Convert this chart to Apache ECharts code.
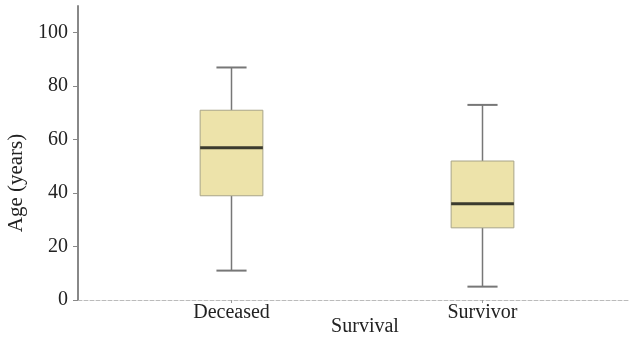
<!DOCTYPE html>
<html>
<head>
<meta charset="utf-8">
<script src="https://cdn.jsdelivr.net/npm/echarts@6/dist/echarts.min.js"></script>
<style>html,body{margin:0;padding:0;background:#fff}#c{width:630px;height:340px}</style>
</head>
<body>
<div id="c"></div>
<script>
const categories = ['Deceased', 'Survivor'];
const mins = [11, 5];
const q1s = [39, 27];
const medians = [57, 36];
const q3s = [71, 52];
const maxs = [87, 73];
const yMin = 0, yMax = 110, yInterval = 20;

const FONT = 'Liberation Serif';
const data = categories.map((c, i) => [i, mins[i], q1s[i], medians[i], q3s[i], maxs[i]]);

const chart = echarts.init(document.getElementById('c'), null, {renderer: 'canvas'});
chart.setOption({
  animation: false,
  backgroundColor: '#fff',
  grid: [
    {left: 106, right: 22, top: 6, bottom: 40, containLabel: false, outerBoundsMode: 'none'},
    {left: 78, right: 0, top: 6, bottom: 40, containLabel: false, outerBoundsMode: 'none'}
  ],
  xAxis: [
    {
      type: 'category', gridIndex: 0, data: categories,
      axisLine: {show: false},
      axisTick: {show: true, alignWithLabel: true, length: 3, lineStyle: {color: '#999'}},
      axisLabel: {color: '#222', fontFamily: FONT, fontSize: 20, margin: 3},
      name: 'Survival', nameLocation: 'middle', nameGap: 17, nameMoveOverlap: false,
      nameTextStyle: {color: '#222', fontFamily: FONT, fontSize: 20, padding: [0, 0, 0, 16]},
      splitLine: {show: false}
    },
    {
      type: 'value', gridIndex: 1, min: 0, max: 1,
      axisLine: {show: true, lineStyle: {color: '#bbb', width: 1, type: 'dashed'}},
      axisTick: {show: false}, axisLabel: {show: false}, splitLine: {show: false}
    }
  ],
  yAxis: [
    {type: 'value', gridIndex: 0, min: yMin, max: yMax, show: false},
    {
      type: 'value', gridIndex: 1, min: yMin, max: yMax, interval: yInterval,
      axisLine: {show: true, lineStyle: {color: '#888', width: 2}},
      axisTick: {show: true, length: 5, lineStyle: {color: '#888'}},
      axisLabel: {color: '#222', fontFamily: FONT, fontSize: 20, margin: 10, showMaxLabel: false},
      splitLine: {show: false},
      name: 'Age (years)', nameLocation: 'middle', nameGap: 51,
      nameTextStyle: {color: '#222', fontFamily: FONT, fontSize: 21, padding: [0, 60, 0, 0]}
    }
  ],
  series: [{
    type: 'custom',
    xAxisIndex: 0, yAxisIndex: 0,
    data: data,
    encode: {x: 0, y: [1, 2, 3, 4, 5]},
    renderItem: function (params, api) {
      const idx = api.value(0);
      const cx = api.coord([idx, 0])[0];
      const bw = api.size([1, 0])[0];
      const boxW = bw * 0.25;
      const capW = bw * 0.12;
      const yMn = api.coord([idx, api.value(1)])[1];
      const yQ1 = api.coord([idx, api.value(2)])[1];
      const yMd = api.coord([idx, api.value(3)])[1];
      const yQ3 = api.coord([idx, api.value(4)])[1];
      const yMx = api.coord([idx, api.value(5)])[1];
      const wStyle = {stroke: '#777', lineWidth: 1.5};
      return {
        type: 'group',
        children: [
          {type: 'line', shape: {x1: cx, y1: yMx, x2: cx, y2: yQ3}, style: wStyle},
          {type: 'line', shape: {x1: cx, y1: yQ1, x2: cx, y2: yMn}, style: wStyle},
          {type: 'line', shape: {x1: cx - capW / 2, y1: yMx, x2: cx + capW / 2, y2: yMx}, style: {stroke: '#777', lineWidth: 2}},
          {type: 'line', shape: {x1: cx - capW / 2, y1: yMn, x2: cx + capW / 2, y2: yMn}, style: {stroke: '#777', lineWidth: 2}},
          {type: 'rect', shape: {x: cx - boxW / 2, y: yQ3, width: boxW, height: yQ1 - yQ3},
           style: {fill: '#EDE3AA', stroke: '#A8A488', lineWidth: 1}},
          {type: 'line', shape: {x1: cx - boxW / 2, y1: yMd, x2: cx + boxW / 2, y2: yMd}, style: {stroke: '#3b3b2e', lineWidth: 3}}
        ]
      };
    }
  }]
});
</script>
</body>
</html>
